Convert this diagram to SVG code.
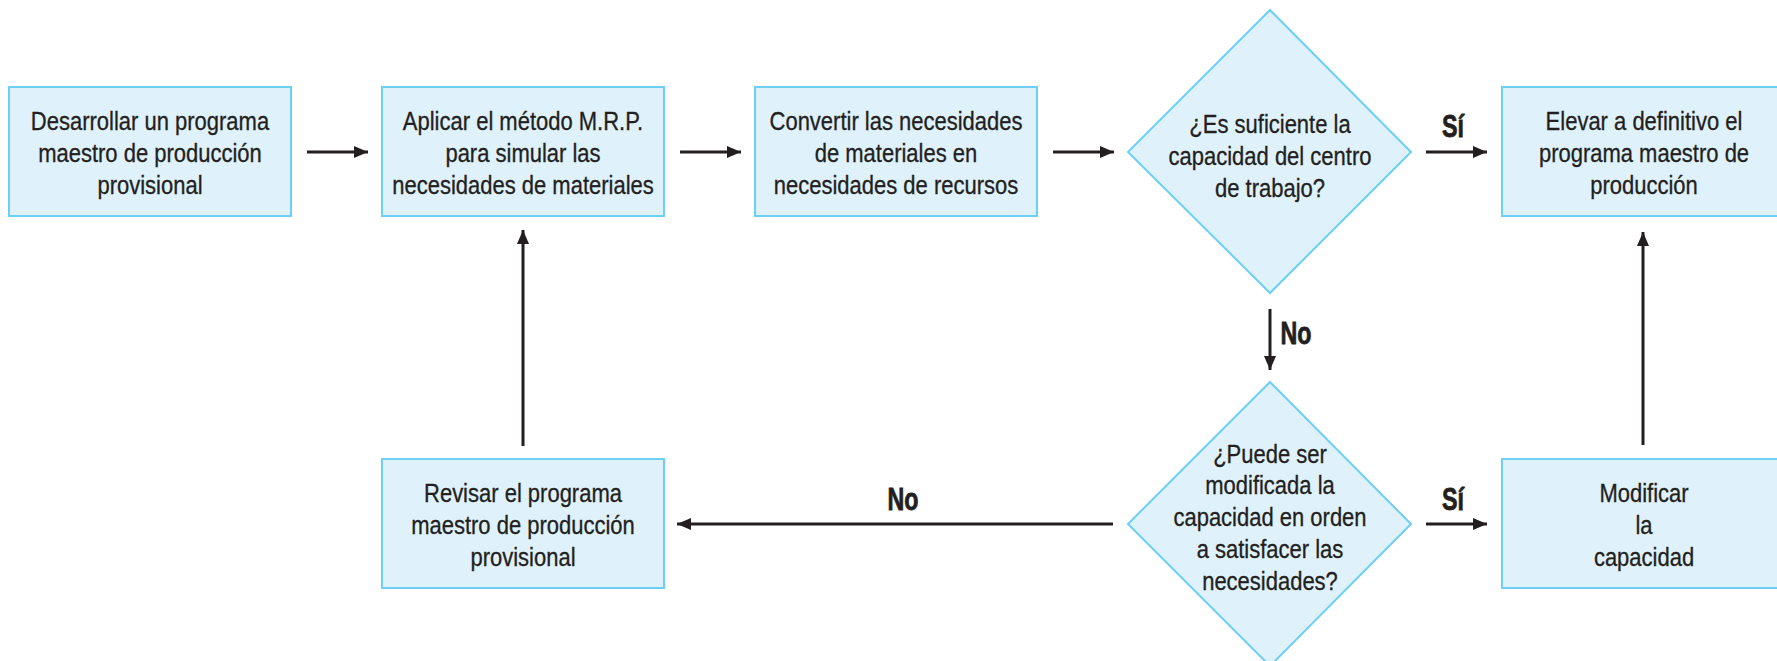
<svg xmlns="http://www.w3.org/2000/svg" width="1777" height="661" viewBox="0 0 1777 661">
<style>
.box{fill:#dff1fa;stroke:#6dcff6;stroke-width:2}
.t{font-family:"Liberation Sans",Arial,sans-serif;font-size:25px;fill:#231f20;stroke:#231f20;stroke-width:0.3;text-anchor:middle}
.lb{font-family:"Liberation Sans",Arial,sans-serif;font-size:31px;font-weight:bold;fill:#231f20;stroke:#231f20;stroke-width:0.8;text-anchor:middle}
.c{stroke:#231f20;stroke-width:3;fill:none}
</style>
<defs>
<marker id="ah" markerUnits="userSpaceOnUse" markerWidth="15" markerHeight="12" refX="14" refY="6" orient="auto">
<path d="M0,0 L14,6 L0,12 z" fill="#231f20"/>
</marker>
</defs>
<rect width="1777" height="661" fill="#ffffff"/>
<g id="n1">
<rect class="box" x="9" y="87" width="282" height="129"/>
<text class="t" transform="translate(150 0) scale(0.88 1)"><tspan x="0" y="130">Desarrollar un programa</tspan><tspan x="0" y="162">maestro de producción</tspan><tspan x="0" y="194">provisional</tspan></text>
</g>
<g id="n2">
<rect class="box" x="382" y="87" width="282" height="129"/>
<text class="t" transform="translate(523 0) scale(0.88 1)"><tspan x="0" y="130">Aplicar el método M.R.P.</tspan><tspan x="0" y="162">para simular las</tspan><tspan x="0" y="194">necesidades de materiales</tspan></text>
</g>
<g id="n3">
<rect class="box" x="755" y="87" width="282" height="129"/>
<text class="t" transform="translate(896 0) scale(0.88 1)"><tspan x="0" y="130">Convertir las necesidades</tspan><tspan x="0" y="162">de materiales en</tspan><tspan x="0" y="194">necesidades de recursos</tspan></text>
</g>
<g id="d1">
<polygon class="box" points="1270,10 1411,152 1270,293 1128,152"/>
<text class="t" transform="translate(1270 0) scale(0.88 1)"><tspan x="0" y="133">¿Es suficiente la</tspan><tspan x="0" y="165">capacidad del centro</tspan><tspan x="0" y="197">de trabajo?</tspan></text>
</g>
<g id="n4">
<rect class="box" x="1502" y="87" width="284" height="129"/>
<text class="t" transform="translate(1644 0) scale(0.88 1)"><tspan x="0" y="130">Elevar a definitivo el</tspan><tspan x="0" y="162">programa maestro de</tspan><tspan x="0" y="194">producción</tspan></text>
</g>
<g id="d2">
<polygon class="box" points="1270,382 1411,524 1270,666 1128,524"/>
<text class="t" transform="translate(1270 0) scale(0.88 1)"><tspan x="0" y="463">¿Puede ser</tspan><tspan x="0" y="494">modificada la</tspan><tspan x="0" y="526">capacidad en orden</tspan><tspan x="0" y="558">a satisfacer las</tspan><tspan x="0" y="590">necesidades?</tspan></text>
</g>
<g id="n5">
<rect class="box" x="1502" y="459" width="284" height="129"/>
<text class="t" transform="translate(1644 0) scale(0.88 1)"><tspan x="0" y="502">Modificar</tspan><tspan x="0" y="534">la</tspan><tspan x="0" y="566">capacidad</tspan></text>
</g>
<g id="n6">
<rect class="box" x="382" y="459" width="282" height="129"/>
<text class="t" transform="translate(523 0) scale(0.88 1)"><tspan x="0" y="502">Revisar el programa</tspan><tspan x="0" y="534">maestro de producción</tspan><tspan x="0" y="566">provisional</tspan></text>
</g>
<g id="connectors">
<line class="c" x1="307" y1="152" x2="368" y2="152" marker-end="url(#ah)"/>
<line class="c" x1="680" y1="152" x2="741" y2="152" marker-end="url(#ah)"/>
<line class="c" x1="1053" y1="152" x2="1114" y2="152" marker-end="url(#ah)"/>
<line class="c" x1="1426" y1="152" x2="1487" y2="152" marker-end="url(#ah)"/>
<line class="c" x1="1270" y1="309" x2="1270" y2="370" marker-end="url(#ah)"/>
<line class="c" x1="1426" y1="524" x2="1487" y2="524" marker-end="url(#ah)"/>
<line class="c" x1="1113" y1="524" x2="677" y2="524" marker-end="url(#ah)"/>
<line class="c" x1="1643" y1="445" x2="1643" y2="232" marker-end="url(#ah)"/>
<line class="c" x1="523" y1="446" x2="523" y2="230" marker-end="url(#ah)"/>
<text class="lb" transform="translate(1453 0) scale(0.75 1)" x="0" y="137">Sí</text>
<text class="lb" transform="translate(1453 0) scale(0.75 1)" x="0" y="510">Sí</text>
<text class="lb" transform="translate(1296 0) scale(0.75 1)" x="0" y="344">No</text>
<text class="lb" transform="translate(903 0) scale(0.75 1)" x="0" y="510">No</text>
</g>
</svg>
